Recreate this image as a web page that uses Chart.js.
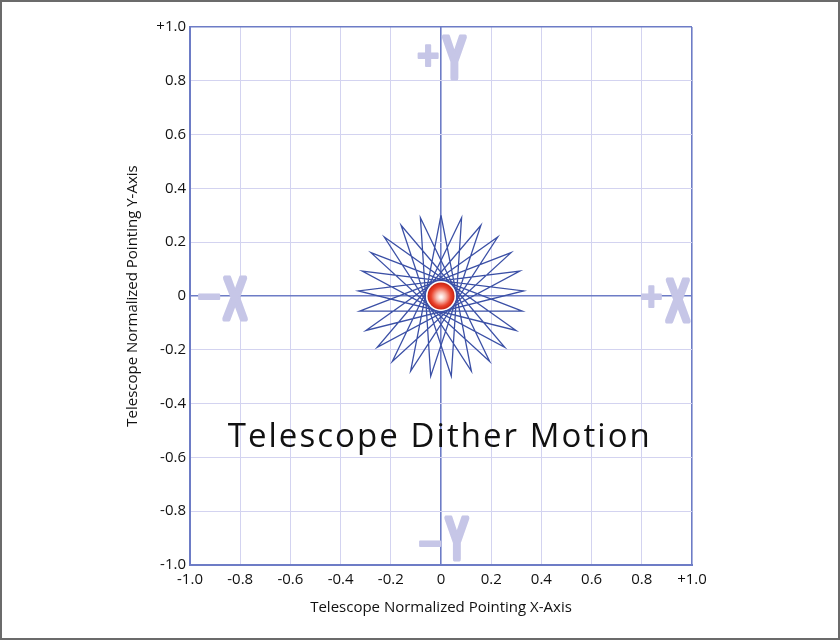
<!DOCTYPE html>
<html lang="en">
<head>
  <meta charset="UTF-8">
  <title>Telescope Dither Motion</title>
  <script src="https://cdn.jsdelivr.net/npm/chart.js"></script>
  <style>
    html, body { margin: 0; padding: 0; background: #fff; }
    #wrap { position: relative; width: 840px; height: 640px; }
    #wrap canvas { position: absolute; left: 0; top: 0; }
    #frame { position: absolute; inset: 0; border: 2px solid #6b6b6b; box-sizing: border-box; pointer-events: none; }
  </style>
</head>
<body>
  <div id="wrap">
    <canvas id="dither" width="840" height="640"></canvas>
    <div id="frame"></div>
  </div>
  <script>
    // axis ticks (same on both axes)
    const tickValues = [-1, -0.8, -0.6, -0.4, -0.2, 0, 0.2, 0.4, 0.6, 0.8, 1];
    const tickLabels = ['-1.0', '-0.8', '-0.6', '-0.4', '-0.2', '0', '0.2', '0.4', '0.6', '0.8', '+1.0'];

    // dither path: 25 pointed star, vertices in the order they are visited
    const starX = [0.000, -0.121, 0.226, -0.299, 0.329, -0.314, 0.254, -0.159, 0.041, 0.082, -0.194, 0.279, -0.324,
                   0.324, -0.279, 0.194, -0.082, -0.041, 0.159, -0.254, 0.314, -0.329, 0.299, -0.226, 0.121, 0.000];
    const starY = [0.300, -0.279, 0.219, -0.128, 0.019, 0.093, -0.191, 0.263, -0.298, 0.291, -0.243, 0.161, -0.056,
                   -0.056, 0.161, -0.243, 0.291, -0.298, 0.263, -0.191, 0.093, 0.019, -0.128, 0.219, -0.279, 0.300];

    // target at the centre
    const targetX = [0];
    const targetY = [0];

    const gridColor = '#d3d3f0';
    const axisColor = '#6d7cc6';
    const starColor = '#3b50a6';
    const markColor = '#c6c6e7';

    // red ball marker
    function makeBall() {
      const c = document.createElement('canvas');
      c.width = 32; c.height = 32;
      const g = c.getContext('2d');
      g.fillStyle = '#ffffff';
      g.beginPath(); g.arc(16, 16, 15, 0, Math.PI * 2); g.fill();
      const grad = g.createRadialGradient(16, 17, 1, 16, 16, 13.5);
      grad.addColorStop(0, '#fff6f4');
      grad.addColorStop(0.3, '#f7b8ac');
      grad.addColorStop(0.7, '#ea442e');
      grad.addColorStop(1, '#c9210f');
      g.fillStyle = grad;
      g.beginPath(); g.arc(16, 16, 13.5, 0, Math.PI * 2); g.fill();
      return c;
    }

    function drawGlyph(ctx, text, px, py, font, sx, stroke) {
      ctx.save();
      ctx.font = font;
      const m = ctx.measureText(text);
      const w = m.actualBoundingBoxRight + m.actualBoundingBoxLeft;
      const h = m.actualBoundingBoxAscent + m.actualBoundingBoxDescent;
      ctx.translate(px, py);
      ctx.scale(sx, 1);
      ctx.textAlign = 'left';
      ctx.textBaseline = 'alphabetic';
      const ox = -w / 2 + m.actualBoundingBoxLeft;
      const oy = h / 2 - m.actualBoundingBoxDescent;
      ctx.lineJoin = 'round';
      ctx.lineWidth = stroke;
      ctx.strokeText(text, ox, oy);
      ctx.fillText(text, ox, oy);
      ctx.restore();
    }

    const marksPlugin = {
      id: 'marks',
      beforeDatasetsDraw(chart) {
        const { ctx, scales: { x, y } } = chart;
        ctx.save();
        ctx.fillStyle = markColor;
        ctx.strokeStyle = markColor;
        const big = 'bold 60px "Liberation Sans"';
        const sign = 'bold 40px "Liberation Sans"';
        // +Y
        drawGlyph(ctx, '+', x.getPixelForValue(-0.052), y.getPixelForValue(0.895), sign, 0.95, 2);
        drawGlyph(ctx, 'Y', x.getPixelForValue(0.054), y.getPixelForValue(0.885), big, 0.58, 5);
        // -Y
        drawGlyph(ctx, '\u2212', x.getPixelForValue(-0.045), y.getPixelForValue(-0.92), sign, 1.0, 2);
        drawGlyph(ctx, 'Y', x.getPixelForValue(0.064), y.getPixelForValue(-0.90), big, 0.58, 5);
        // -X
        drawGlyph(ctx, '\u2212', x.getPixelForValue(-0.925), y.getPixelForValue(0.0), sign, 1.0, 2);
        drawGlyph(ctx, 'X', x.getPixelForValue(-0.82), y.getPixelForValue(-0.01), big, 0.58, 5);
        // +X
        drawGlyph(ctx, '+', x.getPixelForValue(0.837), y.getPixelForValue(0.0), sign, 0.95, 2);
        drawGlyph(ctx, 'X', x.getPixelForValue(0.944), y.getPixelForValue(-0.018), big, 0.58, 5);
        ctx.restore();
      },
      afterDatasetsDraw(chart) {
        const { ctx, scales: { x, y } } = chart;
        const text = 'Telescope Dither Motion';
        const left = x.getPixelForValue(-0.85);
        const right = x.getPixelForValue(0.832);
        ctx.save();
        ctx.font = '33px "Open Sans"';
        ctx.fillStyle = '#111111';
        ctx.textAlign = 'left';
        ctx.textBaseline = 'alphabetic';
        const w0 = ctx.measureText(text).width;
        const gap = (right - left - w0) / (text.length - 1);
        ctx.letterSpacing = gap.toFixed(2) + 'px';
        ctx.fillText(text, left, y.getPixelForValue(-0.562));
        ctx.restore();
      }
    };

    const lineFor = (i) => (i === 5 || i === 10) ? axisColor : gridColor;
    const widthFor = (i) => (i === 5 || i === 10) ? 1.6 : 1;

    const axisBase = {
      type: 'linear',
      min: -1,
      max: 1,
      afterBuildTicks: (s) => { s.ticks = tickValues.map(v => ({ value: v })); },
      grid: {
        drawTicks: false,
        color: (c) => lineFor(c.index),
        lineWidth: (c) => widthFor(c.index)
      },
      border: { display: true, color: axisColor, width: 2 },
      ticks: {
        color: '#111111',
        font: { family: '"Open Sans"', size: 15 },
        callback: (v, i) => tickLabels[i],
        autoSkip: false,
        maxRotation: 0
      },
      title: {
        display: true,
        color: '#111111',
        font: { family: '"Open Sans"', size: 15 }
      }
    };

    new Chart(document.getElementById('dither'), {
      type: 'scatter',
      data: {
        datasets: [
          {
            label: 'Target',
            data: targetX.map((v, i) => ({ x: v, y: targetY[i] })),
            pointStyle: makeBall(),
            pointRadius: 16,
            order: 0
          },
          {
            label: 'Dither path',
            data: starX.map((v, i) => ({ x: v, y: starY[i] })),
            showLine: true,
            borderColor: starColor,
            borderWidth: 1.3,
            pointRadius: 0,
            tension: 0,
            order: 1
          }
        ]
      },
      options: {
        responsive: false,
        animation: false,
        layout: { padding: { left: 120, right: 148, top: 27, bottom: 19 } },
        plugins: {
          legend: { display: false },
          tooltip: { enabled: false }
        },
        scales: {
          x: Object.assign({}, axisBase, {
            position: 'bottom',
            ticks: Object.assign({}, axisBase.ticks, { padding: 6 }),
            title: Object.assign({}, axisBase.title, { text: 'Telescope Normalized Pointing X-Axis' }),
            afterFit: (s) => { s.height = 56; }
          }),
          y: Object.assign({}, axisBase, {
            position: 'left',
            ticks: Object.assign({}, axisBase.ticks, { padding: 4 }),
            title: Object.assign({}, axisBase.title, { text: 'Telescope Normalized Pointing Y-Axis' }),
            afterFit: (s) => { s.width = 70; }
          })
        }
      },
      plugins: [marksPlugin]
    });
  </script>
</body>
</html>
